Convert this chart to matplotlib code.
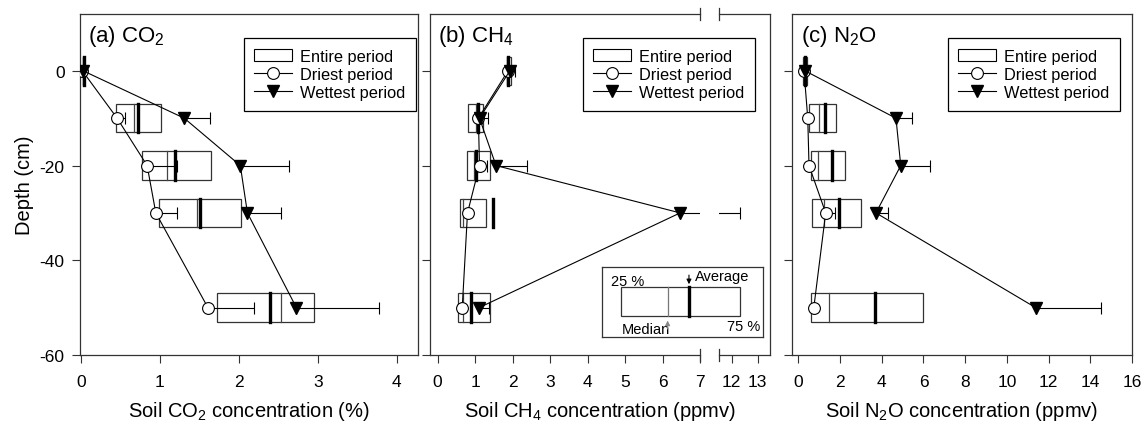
import matplotlib
matplotlib.use("Agg")
import matplotlib.pyplot as plt
import numpy as np
from matplotlib.patches import Rectangle, Patch
from matplotlib.lines import Line2D

plt.rcParams['font.family'] = ['Liberation Sans', 'DejaVu Sans']
plt.rcParams['mathtext.fontset'] = 'custom'
plt.rcParams['mathtext.rm'] = 'Liberation Sans'
plt.rcParams['axes.unicode_minus'] = False

# depths (cm)
depth = [0, -10, -20, -30, -50]

# CO2 (%)
co2_q25 = [0.025, 0.45, 0.78, 0.99, 1.73]
co2_q75 = [0.045, 1.02, 1.65, 2.03, 2.95]
co2_median = [0.03, 0.67, 1.09, 1.47, 2.53]
co2_mean = [0.035, 0.73, 1.19, 1.51, 2.39]
co2_dry = [0.02, 0.46, 0.84, 0.95, 1.61]
co2_dry_err = [0, 0.10, 0.38, 0.27, 0.58]
co2_wet = [0.03, 1.31, 2.02, 2.11, 2.73]
co2_wet_err = [0, 0.33, 0.62, 0.43, 1.05]

# CH4 (ppmv)
ch4_q25 = [1.84, 0.82, 0.78, 0.60, 0.54]
ch4_q75 = [1.97, 1.21, 1.40, 1.29, 1.40]
ch4_median = [1.86, 1.03, 0.975, 0.69, 0.69]
ch4_mean = [1.89, 1.07, 1.03, 1.49, 0.90]
ch4_dry = [1.88, 1.09, 1.12, 0.80, 0.66]
ch4_dry_err = [0.08, 0.10, 0.19, 0, 0]
ch4_wet = [1.93, 1.12, 1.56, 6.47, 1.11]
ch4_wet_err = [0.14, 0.22, 0.83, 5.85, 0.25]

# N2O (ppmv)
n2o_q25 = [0.22, 0.53, 0.59, 0.67, 0.61]
n2o_q75 = [0.40, 1.81, 2.25, 3.00, 5.96]
n2o_median = [0.30, 1.01, 0.96, 1.25, 1.47]
n2o_mean = [0.32, 1.28, 1.60, 1.97, 3.66]
n2o_dry = [0.27, 0.45, 0.51, 1.31, 0.74]
n2o_dry_err = [0, 0, 0, 0.45, 0]
n2o_wet = [0.32, 4.68, 4.91, 3.72, 11.38]
n2o_wet_err = [0, 0.76, 1.40, 0.60, 3.12]

W, H = 1143, 427
fig = plt.figure(figsize=(W / 100, H / 100), dpi=100)

box_h = 6.0
edge = '#333333'


def fx(px):
    return px / W


def fy(py):
    return (H - py) / H


def make_ax(left, right):
    return fig.add_axes([fx(left), fy(356), fx(right - left), (356 - 15) / H])


def draw_gas(ax, q25, q75, med, mean, dry, dry_err, wet, wet_err):
    for d, a, b, m, mu in zip(depth, q25, q75, med, mean):
        ax.add_patch(Rectangle((a, d - box_h / 2), b - a, box_h, facecolor='white',
                               edgecolor=edge, lw=0.9, zorder=1))
        ax.plot([m, m], [d - box_h / 2, d + box_h / 2], color='#444444', lw=0.9, zorder=2)
        ax.plot([mu, mu], [d - box_h / 2, d + box_h / 2], color='black', lw=2.4, zorder=2)
    zeros = np.zeros(len(depth))
    ax.errorbar(dry, depth, xerr=[zeros, dry_err], fmt='none', ecolor='black',
                elinewidth=0.8, capsize=4, capthick=0.8, zorder=3)
    ax.errorbar(wet, depth, xerr=[zeros, wet_err], fmt='none', ecolor='black',
                elinewidth=0.8, capsize=4, capthick=0.8, zorder=3)
    ax.plot(dry, depth, color='black', lw=0.8, marker='o', ms=8.5, mfc='white',
            mec='black', mew=0.8, zorder=4)
    ax.plot(wet, depth, color='black', lw=0.8, marker='v', ms=9, mfc='black',
            mec='black', zorder=5)


def style(ax, ylabels=False):
    ax.set_ylim(-60, 12)
    ax.set_yticks([0, -20, -40, -60])
    ax.tick_params(direction='out', length=6, width=0.8, labelsize=12.5, color=edge)
    ax.tick_params(axis='x', pad=8)
    ax.tick_params(axis='y', pad=5)
    if not ylabels:
        ax.set_yticklabels([])
    for s in ax.spines.values():
        s.set_linewidth(0.9)
        s.set_color(edge)


handles = [Patch(facecolor='white', edgecolor='black', lw=0.8),
           Line2D([], [], color='black', lw=0.8, marker='o', ms=8.5, mfc='white', mew=0.8),
           Line2D([], [], color='black', lw=0.8, marker='v', ms=9, mfc='black')]
labels = ['Entire period', 'Driest period', 'Wettest period']


def add_legend(ax, right_px):
    leg = ax.legend(handles, labels, loc='upper right',
                    bbox_to_anchor=(fx(right_px), fy(39)), bbox_transform=fig.transFigure,
                    fontsize=11.8, frameon=True, fancybox=False, framealpha=1,
                    edgecolor='black', handlelength=2.3, handletextpad=0.5,
                    labelspacing=0.2, borderpad=0.65, borderaxespad=0)
    leg.get_frame().set_linewidth(0.9)
    leg.set_zorder(10)


# (a) CO2
ax_a = make_ax(80, 418)
draw_gas(ax_a, co2_q25, co2_q75, co2_median, co2_mean, co2_dry, co2_dry_err, co2_wet, co2_wet_err)
style(ax_a, ylabels=True)
ax_a.set_xlim(-0.01, 4.27)
ax_a.set_xticks([0, 1, 2, 3, 4])
ax_a.set_ylabel('Depth (cm)', fontsize=14.5, labelpad=4)
ax_a.set_xlabel('Soil CO$_\\mathregular{2}$ concentration (%)', fontsize=14.5, labelpad=7)
ax_a.text(0.024, 0.975, '(a) CO$_\\mathregular{2}$', transform=ax_a.transAxes,
          fontsize=16, va='top', ha='left')
add_legend(ax_a, 416)

# (b) CH4 with broken x axis
ax_b = make_ax(430, 700)
ax_b2 = make_ax(719, 770)
for ax in (ax_b, ax_b2):
    draw_gas(ax, ch4_q25, ch4_q75, ch4_median, ch4_mean, ch4_dry, ch4_dry_err, ch4_wet, ch4_wet_err)
    style(ax)
ax_b.set_xlim(-0.2, 7.0)
ax_b.set_xticks(range(8))
ax_b.spines['right'].set_visible(False)
ax_b2.set_xlim(11.51, 13.47)
ax_b2.set_xticks([12, 13])
ax_b2.spines['left'].set_visible(False)
ax_b2.tick_params(axis='y', left=False)
dk = 6 / 341
for ax, xb in ((ax_b, 1), (ax_b2, 0)):
    for yb in (0, 1):
        ax.plot([xb, xb], [yb - dk, yb + dk], transform=ax.transAxes, color=edge,
                lw=0.9, clip_on=False, zorder=6)
ax_b.set_xlabel('Soil CH$_\\mathregular{4}$ concentration (ppmv)', fontsize=14.5, labelpad=7)
ax_b.xaxis.label.set_x((600 - 430) / 270)
ax_b.text(0.03, 0.975, '(b) CH$_\\mathregular{4}$', transform=ax_b.transAxes,
          fontsize=16, va='top', ha='left')
add_legend(ax_b2, 755)

# key for box elements
key = fig.add_axes([fx(601.7), fy(337.7), fx(161.6), 70 / H])
key.set_xlim(0, 1)
key.set_ylim(0, 1)
key.set_xticks([])
key.set_yticks([])
for s in key.spines.values():
    s.set_linewidth(0.9)
    s.set_color(edge)
key.add_patch(Rectangle((0.119, 0.30), 0.856 - 0.119, 0.41, facecolor='white',
                        edgecolor=edge, lw=0.9))
key.plot([0.408, 0.408], [0.30, 0.71], color='#777777', lw=0.9)
key.plot([0.540, 0.540], [0.30, 0.71], color='black', lw=2.4)
key.text(0.058, 0.80, '25 %', fontsize=10.5, va='center', ha='left')
key.text(0.575, 0.87, 'Average', fontsize=10.5, va='center', ha='left')
key.text(0.124, 0.11, 'Median', fontsize=10.5, va='center', ha='left')
key.text(0.98, 0.15, '75 %', fontsize=10.5, va='center', ha='right')
key.annotate('', xy=(0.540, 0.71), xytext=(0.540, 0.92),
             arrowprops=dict(arrowstyle='-|>', color='black', lw=0.8, mutation_scale=7))
key.annotate('', xy=(0.408, 0.27), xytext=(0.408, 0.07),
             arrowprops=dict(arrowstyle='-|>', color='#888888', lw=0.8, mutation_scale=7))

# (c) N2O
ax_c = make_ax(791.7, 1132)
draw_gas(ax_c, n2o_q25, n2o_q75, n2o_median, n2o_mean, n2o_dry, n2o_dry_err, n2o_wet, n2o_wet_err)
style(ax_c)
ax_c.set_xlim(-0.32, 16)
ax_c.set_xticks(range(0, 17, 2))
ax_c.set_xlabel('Soil N$_\\mathregular{2}$O concentration (ppmv)', fontsize=14.5, labelpad=7)
ax_c.text(0.026, 0.975, '(c) N$_\\mathregular{2}$O', transform=ax_c.transAxes,
          fontsize=16, va='top', ha='left')
add_legend(ax_c, 1120)

fig.savefig('out.png', dpi=100)
